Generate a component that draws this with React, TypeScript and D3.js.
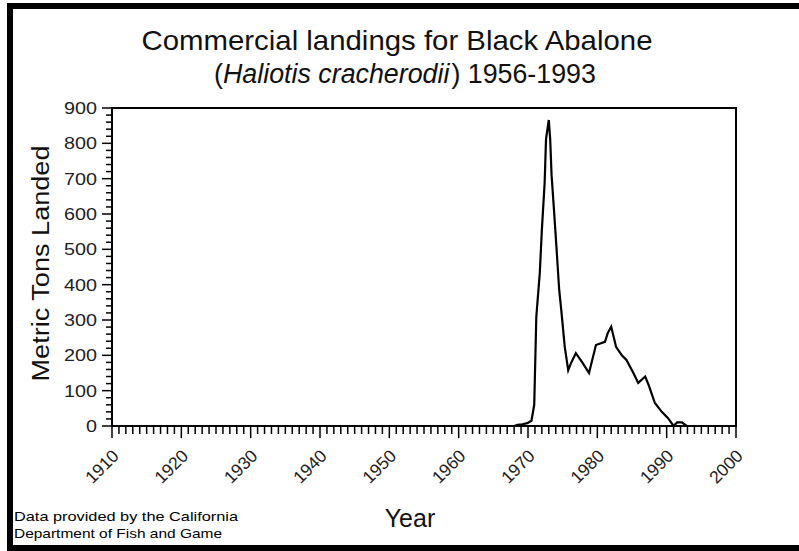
import React from "react";
import * as d3 from "d3";

const years: number[] = [1956, 1960, 1965, 1968.0, 1968.5, 1969.2, 1969.9, 1970.5, 1970.9, 1971.2, 1971.7, 1972.0, 1972.4, 1972.6, 1973.0, 1973.2, 1973.4, 1973.75, 1974.1, 1974.5, 1974.8, 1975.3, 1975.8, 1976.2, 1976.9, 1977.9, 1978.8, 1979.8, 1981.1, 1981.5, 1982.0, 1982.7, 1983.5, 1984.2, 1985.2, 1985.9, 1986.9, 1987.4, 1988.3, 1989.3, 1990.2, 1991.0, 1991.5, 1992.2, 1992.9];
const tons: number[] = [0, 0, 0, 0, 3, 5, 8, 15, 60, 310, 433, 555, 688, 812, 866, 812, 710, 611, 507, 385, 328, 224, 158, 178, 206, 178, 150, 229, 238, 263, 281, 224, 201, 187, 150, 122, 140, 116, 65, 40, 22, 0, 10, 10, 0];

const xTicks: number[] = [1910, 1920, 1930, 1940, 1950, 1960, 1970, 1980, 1990, 2000];
const yTicks: number[] = [0, 100, 200, 300, 400, 500, 600, 700, 800, 900];

const titleLine1 = "Commercial landings for Black Abalone";
const titleSpecies = "Haliotis cracherodii";
const titleYears = " 1956-1993";
const yLabel = "Metric Tons Landed";
const xLabel = "Year";
const note1 = "Data provided by the California";
const note2 = "Department of Fish and Game";

export default function App() {
  const left = 112, right = 736, top = 108, bottom = 426;
  const x = d3.scaleLinear().domain([1910, 2000]).range([left, right]);
  const y = d3.scaleLinear().domain([0, 900]).range([bottom, top]);
  const minorX = d3.range(1910, 2001, 1);
  const minorY = d3.range(0, 901, 20);
  const pts = years.map((yr, i) => [yr, tons[i]] as [number, number]);
  const line = d3.line<[number, number]>().x(d => x(d[0])).y(d => y(d[1]));
  const font = "Liberation Sans, Arial, sans-serif";

  return (
    <svg width={799} height={551} style={{ position: "absolute", left: 0, top: 0, background: "#fff" }} fontFamily={font}>
      <rect x={0} y={0} width={799} height={551} fill="#fff" />
      <rect x={10} y={6} width={800} height={542} fill="none" stroke="#000" strokeWidth={6} />

      <text x={397} y={50} textAnchor="middle" fontSize={28} textLength={511} lengthAdjust="spacingAndGlyphs" fill="#111">{titleLine1}</text>
      <text x={405} y={83} textAnchor="middle" fontSize={26.8} fill="#111">
        (<tspan fontStyle="italic">{titleSpecies}</tspan><tspan dx={2}>){titleYears}</tspan>
      </text>

      {/* plot frame */}
      <rect x={left} y={top} width={right - left} height={bottom - top} fill="none" stroke="#000" strokeWidth={2} />

      {/* y ticks */}
      {minorY.map(v => (
        <line key={"my" + v} x1={left - (v % 100 === 0 ? 10 : 6)} x2={left} y1={y(v)} y2={y(v)} stroke="#000" strokeWidth={1.5} />
      ))}
      {yTicks.map(v => (
        <text key={"yt" + v} x={97} y={y(v) + 6} textAnchor="end" fontSize={17} fill="#222" textLength={String(v).length * 11} lengthAdjust="spacingAndGlyphs">{v}</text>
      ))}

      {/* x ticks */}
      {minorX.map(v => (
        <line key={"mx" + v} x1={x(v)} x2={x(v)} y1={bottom} y2={bottom + (v % 10 === 0 ? 12 : 8)} stroke="#000" strokeWidth={1.5} />
      ))}
      {xTicks.map(v => (
        <text key={"xt" + v} transform={`translate(${x(v) + 8},${bottom + 31}) rotate(-45)`} textAnchor="end" fontSize={17.5} fill="#222">{v}</text>
      ))}

      {/* data */}
      <path d={line(pts) || ""} fill="none" stroke="#000" strokeWidth={2.2} strokeLinejoin="miter" />

      <text transform={`translate(49,${(145 + 382) / 2}) rotate(-90)`} textAnchor="middle" fontSize={23} textLength={236} lengthAdjust="spacingAndGlyphs" fill="#111">{yLabel}</text>
      <text x={410} y={527} textAnchor="middle" fontSize={25} fill="#111">{xLabel}</text>

      <text x={14} y={521} fontSize={13} textLength={224} lengthAdjust="spacingAndGlyphs">{note1}</text>
      <text x={14} y={538} fontSize={13} textLength={208} lengthAdjust="spacingAndGlyphs">{note2}</text>
    </svg>
  );
}
